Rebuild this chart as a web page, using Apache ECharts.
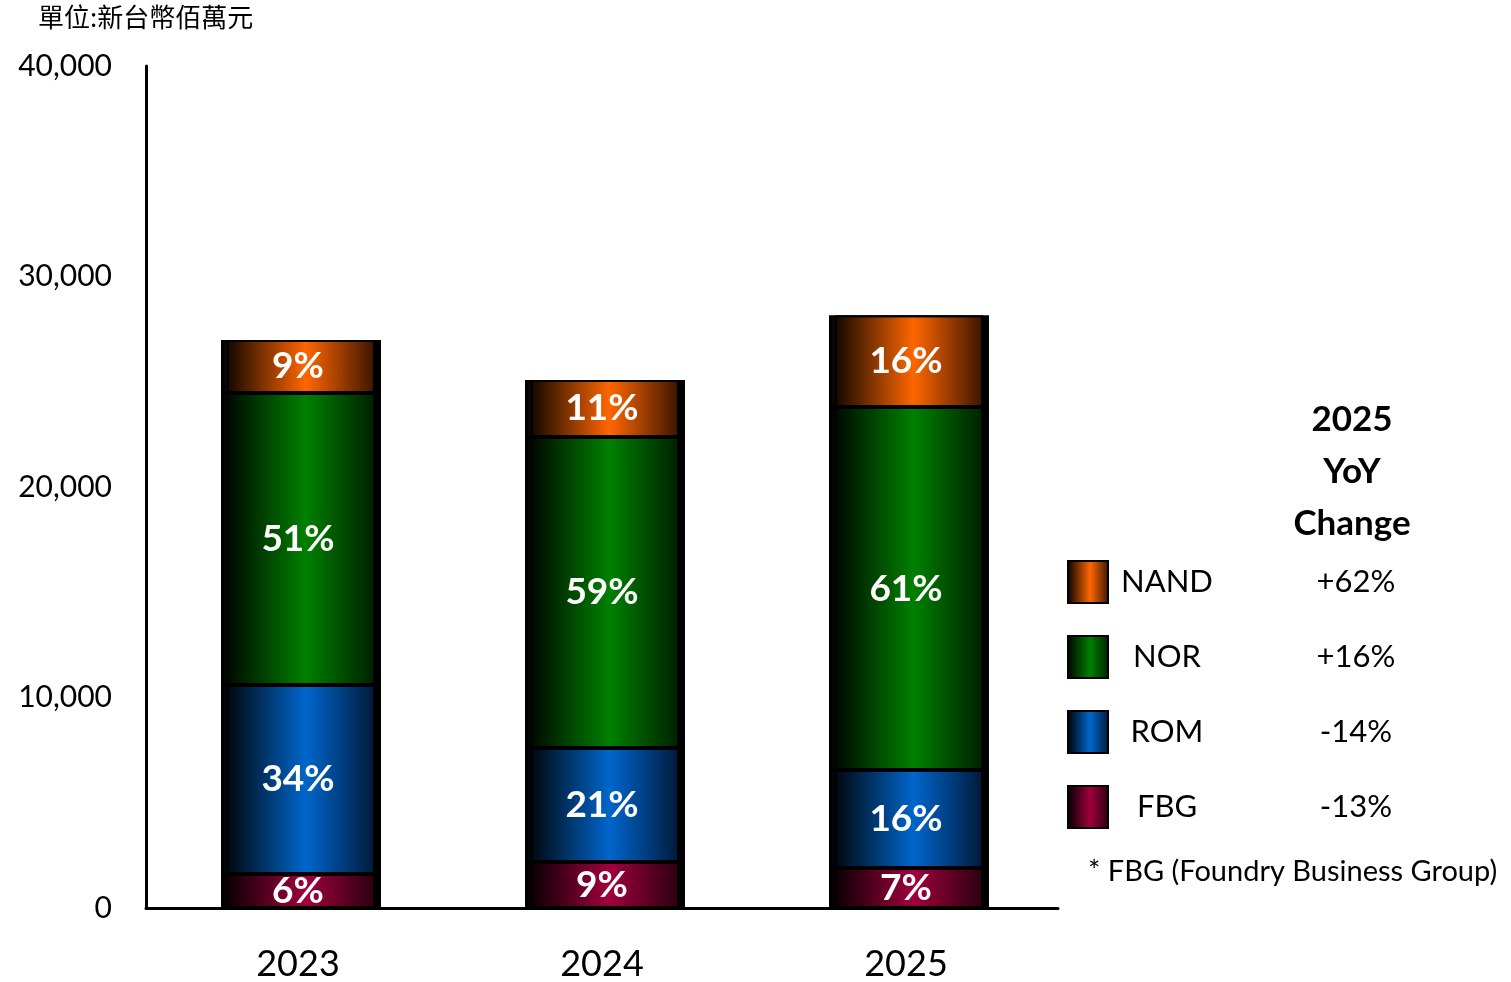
<!DOCTYPE html>
<html>
<head>
<meta charset="utf-8">
<script src="https://cdn.jsdelivr.net/npm/echarts@6/dist/echarts.min.js"></script>
<style>
    html, body { margin: 0; padding: 0; background: #fff; }
    #chart { width: 1511px; height: 982px; }
</style>
</head>
<body>
<div id="chart"></div>
<script>
// 年度
let years = ['2023', '2024', '2025'];
// 各產品線營收 (新台幣佰萬元)
let fbgData = [1615, 2185, 1900];
let romData = [8980, 5415, 4650];
let norData = [13870, 14775, 17245];
let nandData = [2520, 2710, 4370];
// 長條內百分比標籤
let fbgPct = ['6%', '9%', '7%'];
let romPct = ['34%', '21%', '16%'];
let norPct = ['51%', '59%', '61%'];
let nandPct = ['9%', '11%', '16%'];
// 2025 YoY
let legendNames = ['NAND', 'NOR', 'ROM', 'FBG'];
let yoyList = ['+62%', '+16%', '-14%', '-13%'];
let yTicks = [0, 10000, 20000, 30000, 40000];

const FONT = 'Lato, "Open Sans", sans-serif';

function shade(c1, c2) {
    // 左黑 -> 中亮 -> 右暗
    return new echarts.graphic.LinearGradient(0, 0, 1, 0, [
        { offset: 0, color: '#000000' },
        { offset: 0.55, color: c1 },
        { offset: 1, color: c2 },
    ], false);
}

let dataList = [
    { name: 'FBG', data: fbgData, pct: fbgPct, color: shade('#a0003c', '#2a0010') },
    { name: 'ROM', data: romData, pct: romPct, color: shade('#0066cc', '#001a3a') },
    { name: 'NOR', data: norData, pct: norPct, color: shade('#008000', '#002000') },
    { name: 'NAND', data: nandData, pct: nandPct, color: shade('#ff6600', '#3a1500') },
];

let series = dataList.map(item => ({
    type: 'bar',
    name: item.name,
    stack: 'total',
    barWidth: 154,
    data: item.data,
    itemStyle: {
        color: item.color,
        borderColor: '#000',
        borderWidth: 2,
        shadowColor: '#000',
        shadowBlur: 0,
        shadowOffsetX: 6,
        shadowOffsetY: 0,
    },
    label: {
        show: true,
        position: 'inside',
        color: '#fff',
        fontFamily: FONT,
        fontWeight: 'bold',
        fontSize: 37,
        formatter: p => item.pct[p.dataIndex],
    },
    emphasis: { disabled: true },
}));

let option = {
    animation: false,
    grid: {
        left: 146,
        right: 453,
        top: 66,
        bottom: 74,
    },
    legend: {
        data: legendNames,
        orient: 'vertical',
        left: 1062,
        top: 555,
        icon: 'rect',
        itemWidth: 40,
        itemHeight: 42,
        itemGap: 31,
        selectedMode: false,
        itemStyle: {
            borderColor: '#000',
            borderWidth: 2,
            shadowBlur: 0,
            shadowOffsetX: 0,
            shadowOffsetY: 0,
            shadowColor: 'transparent',
        },
        formatter: name => {
            let i = legendNames.indexOf(name);
            return '{n|' + name + '}{v|' + yoyList[i] + '}';
        },
        textStyle: {
            rich: {
                n: { fontFamily: FONT, fontSize: 31, color: '#000', width: 108, align: 'center', lineHeight: 40 },
                v: { fontFamily: FONT, fontSize: 31, color: '#000', width: 270, align: 'center', lineHeight: 40 },
            },
        },
    },
    graphic: [
        {
            type: 'text',
            left: 38,
            top: 4,
            style: {
                text: '單位:新台幣佰萬元',
                font: '26px "Noto Sans CJK TC"',
                fill: '#000',
            },
        },
        {
            type: 'text',
            x: 1352,
            y: 394,
            style: {
                text: '2025\nYoY\nChange',
                font: 'bold 35px ' + FONT,
                fill: '#000',
                align: 'center',
                lineHeight: 52,
            },
        },
        {
            type: 'text',
            left: 1088,
            top: 857,
            style: {
                text: '* FBG (Foundry Business Group)',
                font: '29px ' + FONT,
                fill: '#000',
            },
        },
    ],
    xAxis: {
        type: 'category',
        data: years,
        axisTick: { show: false },
        axisLine: { lineStyle: { color: '#000', width: 3 } },
        axisLabel: {
            color: '#000',
            fontFamily: FONT,
            fontSize: 36,
            margin: 38,
        },
    },
    yAxis: {
        type: 'value',
        min: 0,
        max: 40000,
        interval: 10000,
        axisLine: { show: true, lineStyle: { color: '#000', width: 3 } },
        axisTick: { show: false },
        splitLine: { show: false },
        axisLabel: {
            color: '#000',
            fontFamily: FONT,
            fontSize: 30,
            margin: 34,
            formatter: v => yTicks.indexOf(v) >= 0 ? v.toLocaleString('en-US') : '',
        },
    },
    series: series,
};

let chart = echarts.init(document.getElementById('chart'));
chart.setOption(option);
window.addEventListener('resize', function () {
    chart.resize();
});
</script>
</body>
</html>
